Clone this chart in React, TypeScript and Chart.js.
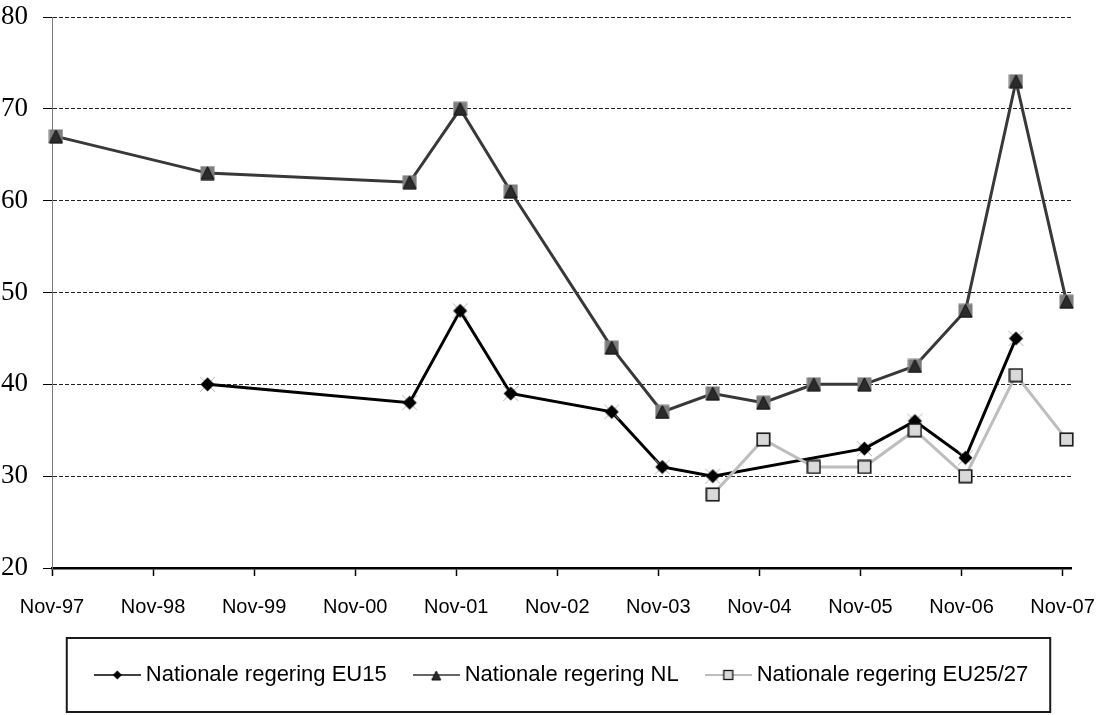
import React, { useEffect, useRef } from "react";
import { Chart, registerables } from "chart.js";

Chart.register(...registerables);

// ---------- data ----------
const surveyDates = [
  "1997-11-15", "1999-05-15", "2001-05-15", "2001-11-15", "2002-05-15",
  "2003-05-15", "2003-11-15", "2004-05-15", "2004-11-15", "2005-05-15",
  "2005-11-15", "2006-05-15", "2006-11-15", "2007-05-15", "2007-11-15",
];
const seriesNames = [
  "Nationale regering EU15",
  "Nationale regering NL",
  "Nationale regering EU25/27",
];
const eu15Values: (number | null)[] = [null, 40, 38, 48, 39, 37, 31, 30, null, null, 33, 36, 32, 45, null];
const nlValues: (number | null)[] = [67, 63, 62, 70, 61, 44, 37, 39, 38, 40, 40, 42, 48, 73, 49];
const eu2527Values: (number | null)[] = [null, null, null, null, null, null, null, 28, 34, 31, 31, 35, 30, 41, 34];
const xTickLabels = [
  "Nov-97", "Nov-98", "Nov-99", "Nov-00", "Nov-01", "Nov-02",
  "Nov-03", "Nov-04", "Nov-05", "Nov-06", "Nov-07",
];
const yTickValues = [20, 30, 40, 50, 60, 70, 80];
const axisStartDate = "1997-11-01";
const axisEndDate = "2007-12-01";

// ---------- helpers ----------
const monthNum: Record<string, number> = {
  Jan: 1, Feb: 2, Mar: 3, Apr: 4, May: 5, Jun: 6, Jul: 7, Aug: 8, Sep: 9, Oct: 10, Nov: 11, Dec: 12,
};
function monthOffset(iso: string): number {
  const [y, m, d] = iso.split("-").map(Number);
  const [y0, m0] = axisStartDate.split("-").map(Number);
  return (y - y0) * 12 + (m - m0) + (d - 1) / 30;
}
function tickLabelOffset(label: string): number {
  const [mon, yy] = label.split("-");
  const yr = Number(yy) < 50 ? 2000 + Number(yy) : 1900 + Number(yy);
  const m = monthNum[mon];
  return monthOffset(`${yr}-${String(m).padStart(2, "0")}-01`);
}
function toPoints(values: (number | null)[]) {
  const pts: { x: number; y: number }[] = [];
  values.forEach((v, i) => {
    if (v !== null) pts.push({ x: monthOffset(surveyDates[i]), y: v });
  });
  return pts;
}

function makeCanvas(w: number, h: number, draw: (c: CanvasRenderingContext2D) => void) {
  const cv = document.createElement("canvas");
  cv.width = w;
  cv.height = h;
  const c = cv.getContext("2d")!;
  draw(c);
  return cv;
}

function drawDiamond(c: CanvasRenderingContext2D, cx: number, cy: number, r: number) {
  c.beginPath();
  c.moveTo(cx, cy - r);
  c.lineTo(cx + r, cy);
  c.lineTo(cx, cy + r);
  c.lineTo(cx - r, cy);
  c.closePath();
  c.fillStyle = "#000";
  c.fill();
}
function drawTriangleMarker(c: CanvasRenderingContext2D, cx: number, cy: number, s: number, withSquare: boolean) {
  if (withSquare) {
    c.fillStyle = "#7d7d7d";
    c.fillRect(cx - s / 2, cy - s / 2, s, s);
  }
  c.beginPath();
  c.moveTo(cx, cy - s / 2 + 0.5);
  c.lineTo(cx + s / 2 - 0.5, cy + s / 2 - 0.5);
  c.lineTo(cx - s / 2 + 0.5, cy + s / 2 - 0.5);
  c.closePath();
  c.fillStyle = "#2b2b2b";
  c.fill();
  c.strokeStyle = "#111";
  c.lineWidth = 1;
  c.stroke();
}
function drawSquareMarker(c: CanvasRenderingContext2D, cx: number, cy: number, s: number, lw: number) {
  c.fillStyle = "#d9d9d9";
  c.fillRect(cx - s / 2, cy - s / 2, s, s);
  c.strokeStyle = "#151515";
  c.lineWidth = lw;
  c.strokeRect(cx - s / 2, cy - s / 2, s, s);
}

export default function App() {
  const ref = useRef<HTMLCanvasElement | null>(null);

  useEffect(() => {
    if (!ref.current) return;

    // point markers
    const eu15Marker = makeCanvas(19, 19, (c) => {
      c.strokeStyle = "#b5b5b5";
      c.lineWidth = 1;
      c.beginPath();
      c.moveTo(2, 2); c.lineTo(17, 17);
      c.moveTo(17, 2); c.lineTo(2, 17);
      c.stroke();
      drawDiamond(c, 9.5, 9.5, 7);
    });
    const nlMarker = makeCanvas(15, 15, (c) => drawTriangleMarker(c, 7.5, 7.5, 14, true));
    const eu25Marker = makeCanvas(15, 15, (c) => drawSquareMarker(c, 7.5, 7.5, 12.5, 1.6));

    // legend symbols (line + marker)
    const symW = 47;
    const symH = 14;
    const legendSymbols = [
      makeCanvas(symW, symH, (c) => {
        c.strokeStyle = "#000"; c.lineWidth = 1.5;
        c.beginPath(); c.moveTo(0, 7); c.lineTo(symW, 7); c.stroke();
        drawDiamond(c, symW / 2, 7, 4.5);
      }),
      makeCanvas(symW, symH, (c) => {
        c.strokeStyle = "#333"; c.lineWidth = 1.5;
        c.beginPath(); c.moveTo(0, 7); c.lineTo(symW, 7); c.stroke();
        drawTriangleMarker(c, symW / 2, 7.5, 10, false);
      }),
      makeCanvas(symW, symH, (c) => {
        c.strokeStyle = "#a8a8a8"; c.lineWidth = 1.5;
        c.beginPath(); c.moveTo(0, 7); c.lineTo(symW, 7); c.stroke();
        drawSquareMarker(c, symW / 2, 7, 9, 1.3);
      }),
    ];

    const boxLegend = {
      id: "boxLegend",
      afterDraw(chart: any) {
        const ctx: CanvasRenderingContext2D = chart.ctx;
        ctx.save();
        ctx.font = '22px "Liberation Sans", Arial, sans-serif';
        ctx.textBaseline = "middle";
        ctx.textAlign = "left";
        const textGap = 5;
        const itemGap = 26;
        const labels: string[] = chart.data.datasets.map((d: any) => d.label);
        const widths = labels.map((t) => symW + textGap + ctx.measureText(t).width);
        const total = widths.reduce((a, b) => a + b, 0) + itemGap * (labels.length - 1);
        const cy = chart.height - 40;
        let x = chart.width / 2 + 7 - total / 2;
        const start = x;
        labels.forEach((t, i) => {
          ctx.drawImage(legendSymbols[i], x, cy - symH / 2);
          ctx.fillStyle = "#000";
          ctx.fillText(t, x + symW + textGap, cy);
          x += widths[i] + itemGap;
        });
        const end = x - itemGap;
        ctx.strokeStyle = "#1a1a1a";
        ctx.lineWidth = 2;
        const top = chart.height - 77;
        const bottom = chart.height - 3;
        ctx.strokeRect(start - 27, top, end - start + 27 + 22, bottom - top);
        ctx.restore();
      },
    };

    const xTickValues = xTickLabels.map(tickLabelOffset);

    const chart = new Chart(ref.current, {
      type: "line",
      data: {
        datasets: [
          {
            label: seriesNames[0],
            data: toPoints(eu15Values),
            borderColor: "#000",
            backgroundColor: "#000",
            borderWidth: 3,
            pointStyle: eu15Marker as any,
            pointRadius: 7,
            tension: 0,
            fill: false,
            clip: false as any,
            order: 1,
          },
          {
            label: seriesNames[1],
            data: toPoints(nlValues),
            borderColor: "#383838",
            backgroundColor: "#383838",
            borderWidth: 3,
            pointStyle: nlMarker as any,
            pointRadius: 7,
            tension: 0,
            fill: false,
            clip: false as any,
            order: 2,
          },
          {
            label: seriesNames[2],
            data: toPoints(eu2527Values),
            borderColor: "#bdbdbd",
            backgroundColor: "#bdbdbd",
            borderWidth: 3,
            pointStyle: eu25Marker as any,
            pointRadius: 7,
            tension: 0,
            fill: false,
            clip: false as any,
            order: 0,
          },
        ],
      },
      options: {
        animation: false,
        responsive: true,
        maintainAspectRatio: false,
        events: [],
        layout: { padding: { top: 17, right: 37, bottom: 75, left: 0 } },
        plugins: {
          legend: { display: false },
          tooltip: { enabled: false },
        },
        scales: {
          x: {
            type: "linear",
            min: 0,
            max: monthOffset(axisEndDate),
            afterBuildTicks: (s: any) => {
              s.ticks = xTickValues.map((v) => ({ value: v }));
            },
            afterFit: (s: any) => {
              s.height = 72;
              s.paddingLeft = 0;
              s.paddingRight = 0;
            },
            ticks: {
              callback: (_v: any, i: number) => xTickLabels[i],
              autoSkip: false,
              maxRotation: 0,
              minRotation: 0,
              padding: 19,
              color: "#000",
              font: { family: '"Liberation Sans", Arial, sans-serif', size: 20 },
            },
            grid: {
              drawOnChartArea: false,
              drawTicks: true,
              tickLength: 8,
              tickColor: "#000",
              tickWidth: 1.5,
            },
            border: { display: true, color: "#000", width: 2.5 },
          },
          y: {
            type: "linear",
            min: 20,
            max: 80,
            afterBuildTicks: (s: any) => {
              s.ticks = yTickValues.map((v) => ({ value: v }));
            },
            afterFit: (s: any) => {
              s.width = 52;
              s.paddingTop = 0;
              s.paddingBottom = 0;
            },
            ticks: {
              padding: 15,
              color: "#000",
              font: { family: '"Liberation Serif", "Times New Roman", serif', size: 27 },
            },
            grid: {
              color: "#222",
              lineWidth: 1,
              drawTicks: true,
              tickLength: 9,
              tickColor: "#000",
              tickWidth: 1,
              tickBorderDash: [],
            } as any,
            border: { display: true, color: "#7a7a7a", width: 1, dash: [4, 2] },
          },
        },
      },
      plugins: [boxLegend],
    });

    return () => chart.destroy();
  }, []);

  return (
    <div
      style={{
        position: "fixed",
        left: 0,
        top: 0,
        width: "1108px",
        height: "715px",
        background: "#fff",
      }}
    >
      <canvas ref={ref} />
    </div>
  );
}
